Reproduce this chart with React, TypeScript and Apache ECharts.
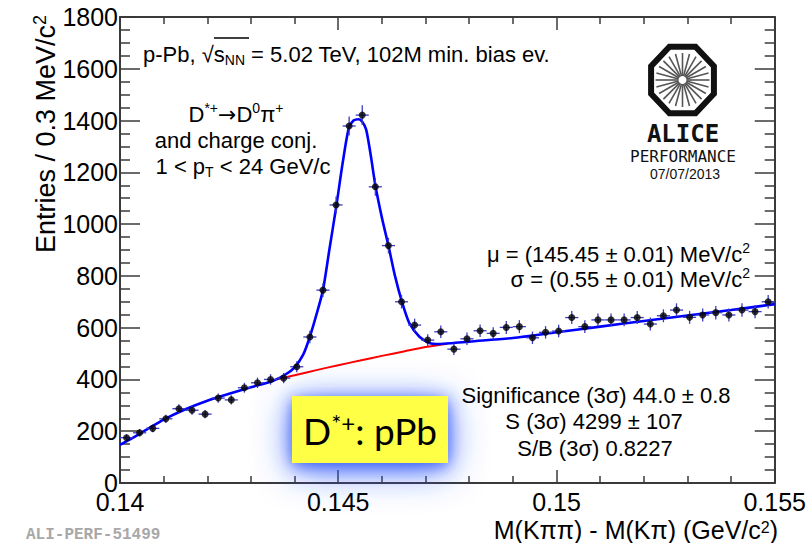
import React, { useEffect, useRef } from "react";
import * as echarts from "echarts";

// Histogram definition
const HIST_MIN = 0.14;
const BIN_WIDTH = 0.0003;

// Entries per bin
const counts = [
  175, 194, 211, 248, 287, 281, 266, 328, 321, 368,
  387, 400, 405, 449, 564, 745, 1074, 1379, 1421, 1144,
  917, 700, 610, 552, 584, 517, 557, 588, 578, 601,
  604, 561, 582, 587, 639, 604, 630, 630, 630, 639,
  614, 646, 668, 640, 649, 658, 649, 668, 662, 700,
];
// Vertical error bar half-lengths
const countErrors = [
  13, 14, 15, 16, 17, 17, 16, 18, 18, 19,
  20, 20, 20, 21, 24, 27, 33, 37, 38, 34,
  30, 26, 25, 23, 24, 23, 24, 24, 24, 25,
  25, 24, 24, 24, 25, 25, 25, 25, 25, 25,
  25, 25, 26, 25, 25, 26, 25, 26, 26, 26,
];

// Total fit (blue)
const fitX = [
  0.14, 0.1403, 0.1406, 0.141, 0.1415, 0.142, 0.1425, 0.143, 0.1435, 0.1438,
  0.144, 0.1442, 0.14435, 0.1445, 0.14465, 0.1448, 0.14496, 0.1451, 0.14524, 0.14535,
  0.14547, 0.14555, 0.14564, 0.14575, 0.14585, 0.146, 0.14615, 0.1463, 0.14646, 0.14663,
  0.14686, 0.14709, 0.1473, 0.1476, 0.148, 0.149, 0.15, 0.151, 0.152, 0.153,
  0.154, 0.155,
];
const fitY = [
  147, 175, 205, 245, 285, 318, 345, 370, 394, 420,
  447, 497, 565, 650, 745, 905, 1074, 1235, 1370, 1400,
  1405, 1395, 1365, 1260, 1150, 1025, 917, 800, 700, 617,
  565, 541, 537, 540, 546, 560, 582, 604, 626, 647,
  668, 691,
];

// Background fit (red) where visible
const bkgX = [0.1436, 0.144, 0.1445, 0.145, 0.1455, 0.146, 0.1465, 0.147, 0.1475];
const bkgY = [401, 416, 436, 455, 473, 491, 508, 525, 538];

// Axis ticks
const xTickValues = [0.14, 0.145, 0.15, 0.155];
const xTickLabels = ["0.14", "0.145", "0.15", "0.155"];
const yMin = 0;
const yMax = 1800;
const yStep = 200;

const FONT = "Liberation Sans";

function richText(size: number, lh: number) {
  return {
    a: { fontSize: size, fontFamily: FONT, color: "#000", lineHeight: lh },
    arr: { fontSize: size, fontFamily: "DejaVu Sans", color: "#000", lineHeight: lh },
    sup: {
      fontSize: Math.round(size * 0.65),
      fontFamily: FONT,
      color: "#000",
      lineHeight: Math.round(size * 0.7),
      verticalAlign: "top",
    },
    sub: {
      fontSize: Math.round(size * 0.65),
      fontFamily: FONT,
      color: "#000",
      lineHeight: Math.round(size * 0.7),
      verticalAlign: "bottom",
    },
  };
}

export default function App() {
  const ref = useRef<HTMLDivElement>(null);

  useEffect(() => {
    if (!ref.current) return;
    const chart = echarts.init(ref.current, undefined, { renderer: "svg" });

    const points = counts.map((c, i) => [HIST_MIN + BIN_WIDTH * (i + 0.5), c]);
    const errData = counts.map((c, i) => [HIST_MIN + BIN_WIDTH * (i + 0.5), c, countErrors[i]]);
    const fitData = fitX.map((x, i) => [x, fitY[i]]);
    const bkgData = bkgX.map((x, i) => [x, bkgY[i]]);

    const axisColor = "#3a3a3a";
    const xFmt = (v: number) => {
      const k = xTickValues.findIndex((t) => Math.abs(t - v) < 1e-9);
      return k >= 0 ? xTickLabels[k] : "";
    };

    const xBase = {
      type: "value",
      min: 0.14,
      max: 0.155,
      interval: 0.005,
      splitLine: { show: false },
      axisLine: { show: true, onZero: false, lineStyle: { color: axisColor, width: 2 } },
      axisTick: { show: true, inside: true, length: 13, lineStyle: { color: axisColor, width: 1.5 } },
      minorTick: { show: true, splitNumber: 5, length: 7, lineStyle: { color: axisColor, width: 1.5 } },
    };
    const yBase = {
      type: "value",
      min: yMin,
      max: yMax,
      interval: yStep,
      splitLine: { show: false },
      axisLine: { show: true, onZero: false, lineStyle: { color: axisColor, width: 2 } },
      axisTick: { show: true, inside: true, length: 20, lineStyle: { color: axisColor, width: 1.5 } },
      minorTick: { show: true, splitNumber: 4, length: 10, lineStyle: { color: axisColor, width: 1.5 } },
    };

    // ALICE logo octagon (decoration)
    const cx = 682.5;
    const cy = 80;
    const R = 34;
    const oct: number[][] = [];
    for (let k = 0; k < 8; k++) {
      const a = ((22.5 + 45 * k) * Math.PI) / 180;
      oct.push([cx + R * Math.cos(a), cy + R * 1.06 * Math.sin(a)]);
    }
    const spokes: any[] = [];
    for (let k = 0; k < 24; k++) {
      const a = (k * 15 * Math.PI) / 180;
      spokes.push({
        type: "line",
        shape: {
          x1: cx + 4 * Math.cos(a),
          y1: cy + 4 * Math.sin(a),
          x2: cx + 27 * Math.cos(a),
          y2: cy + 27 * Math.sin(a),
        },
        style: { stroke: "#555", lineWidth: 1.6 },
      });
    }

    const option: any = {
      animation: false,
      backgroundColor: "#fff",
      grid: { left: 120, right: 33, top: 17, bottom: 60, containLabel: false },
      xAxis: [
        {
          ...xBase,
          position: "bottom",
          axisLabel: {
            show: true,
            formatter: xFmt,
            fontSize: 25,
            lineHeight: 20,
            fontFamily: FONT,
            color: "#000",
            margin: 9,
            showMinLabel: true,
            showMaxLabel: true,
          },
        },
        { ...xBase, position: "top", axisLabel: { show: false } },
      ],
      yAxis: [
        {
          ...yBase,
          position: "left",
          axisLabel: {
            show: true,
            formatter: (v: number) => String(v),
            fontSize: 25,
            lineHeight: 16,
            fontFamily: FONT,
            color: "#000",
            margin: 2,
            padding: [4, 0, 0, 0],
          },
        },
        { ...yBase, position: "right", axisLabel: { show: false } },
      ],
      series: [
        {
          type: "line",
          data: bkgData,
          showSymbol: false,
          smooth: 0.3,
          lineStyle: { color: "#ff0000", width: 2 },
          z: 2,
        },
        {
          type: "line",
          data: fitData,
          showSymbol: false,
          smooth: 0.25,
          lineStyle: { color: "#0000ff", width: 2.6 },
          z: 3,
        },
        {
          type: "custom",
          data: errData,
          z: 4,
          renderItem: (params: any, api: any) => {
            const x = api.value(0);
            const y = api.value(1);
            const e = api.value(2);
            const c = api.coord([x, y]);
            const lo = api.coord([x, y - e]);
            const hi = api.coord([x, y + e]);
            const l = api.coord([x - BIN_WIDTH / 2, y]);
            const r = api.coord([x + BIN_WIDTH / 2, y]);
            const st = { stroke: "#3b3bc4", lineWidth: 1.3 };
            return {
              type: "group",
              children: [
                { type: "line", shape: { x1: l[0], y1: c[1], x2: r[0], y2: c[1] }, style: st },
                { type: "line", shape: { x1: c[0], y1: lo[1], x2: c[0], y2: hi[1] }, style: st },
              ],
            };
          },
        },
        {
          type: "scatter",
          data: points,
          symbol: "circle",
          symbolSize: 7,
          itemStyle: { color: "#000" },
          z: 5,
        },
      ],
      graphic: [
        // Y axis title
        {
          type: "text",
          x: 46,
          y: 15,
          rotation: Math.PI / 2,
          style: {
            text: "{a|Entries / 0.3 MeV/c}{sup|2}",
            align: "right",
            verticalAlign: "middle",
            rich: richText(27, 30),
          },
        },
        // X axis title
        {
          type: "text",
          x: 778,
          y: 530,
          style: {
            text: "{a|M(K\u03c0\u03c0) - M(K\u03c0) (GeV/c}{sup|2}{a|)}",
            align: "right",
            verticalAlign: "middle",
            rich: richText(25, 22),
          },
        },
        // Collision system
        {
          type: "text",
          x: 143,
          y: 54,
          style: {
            text: "{a|p-Pb, \u221a}{a|s}{sub|NN}{a| = 5.02 TeV, 102M min. bias ev.}",
            align: "left",
            verticalAlign: "middle",
            rich: richText(22, 26),
          },
        },
        {
          type: "line",
          shape: { x1: 214, y1: 38, x2: 249, y2: 38 },
          style: { stroke: "#000", lineWidth: 1.3 },
        },
        // Decay channel
        {
          type: "text",
          x: 236,
          y: 114,
          style: {
            text: "{a|D}{sup|*+}{arr|\u2192}{a|D}{sup|0}{a|\u03c0}{sup|+}",
            align: "center",
            verticalAlign: "middle",
            rich: richText(22, 26),
          },
        },
        {
          type: "text",
          x: 236,
          y: 140,
          style: {
            text: "{a|and charge conj.}",
            align: "center",
            verticalAlign: "middle",
            rich: richText(22, 26),
          },
        },
        {
          type: "text",
          x: 243,
          y: 166,
          style: {
            text: "{a|1 < p}{sub|T}{a| < 24 GeV/c}",
            align: "center",
            verticalAlign: "middle",
            rich: richText(22, 26),
          },
        },
        // Fit parameters
        {
          type: "text",
          x: 750,
          y: 254,
          style: {
            text: "{a|\u03bc = (145.45 \u00b1 0.01) MeV/c}{sup|2}",
            align: "right",
            verticalAlign: "middle",
            rich: richText(22, 26),
          },
        },
        {
          type: "text",
          x: 750,
          y: 279,
          style: {
            text: "{a|\u03c3 = (0.55 \u00b1 0.01) MeV/c}{sup|2}",
            align: "right",
            verticalAlign: "middle",
            rich: richText(22, 26),
          },
        },
        // Significance block
        {
          type: "text",
          x: 596,
          y: 395,
          style: {
            text: "Significance (3\u03c3) 44.0 \u00b1 0.8",
            fontSize: 22,
            fontFamily: FONT,
            fill: "#000",
            align: "center",
            verticalAlign: "middle",
          },
        },
        {
          type: "text",
          x: 594,
          y: 421,
          style: {
            text: "S (3\u03c3) 4299 \u00b1 107",
            fontSize: 22,
            fontFamily: FONT,
            fill: "#000",
            align: "center",
            verticalAlign: "middle",
          },
        },
        {
          type: "text",
          x: 595,
          y: 448,
          style: {
            text: "S/B (3\u03c3) 0.8227",
            fontSize: 22,
            fontFamily: FONT,
            fill: "#000",
            align: "center",
            verticalAlign: "middle",
          },
        },
        // Yellow label box with blue glow
        {
          type: "rect",
          shape: { x: 294, y: 399, width: 152, height: 63 },
          style: {
            fill: "#5a78ff",
            shadowBlur: 38,
            shadowColor: "rgba(40,80,255,0.85)",
            shadowOffsetY: 6,
          },
          z: 99,
        },
        {
          type: "rect",
          shape: { x: 292, y: 396, width: 156, height: 67 },
          style: {
            fill: "#ffff44",
            shadowBlur: 16,
            shadowColor: "rgba(40,80,240,0.8)",
            shadowOffsetY: 3,
          },
          z: 100,
        },
        {
          type: "text",
          x: 303,
          y: 430,
          z: 101,
          style: {
            text: "{m|D}{s|*+}{m|: pPb}",
            align: "left",
            verticalAlign: "middle",
            rich: {
              m: { fontSize: 37, fontFamily: "Lato", color: "#000", lineHeight: 40 },
              s: { fontSize: 24, fontFamily: "Lato", color: "#000", lineHeight: 24, verticalAlign: "top" },
            },
          },
        },
        // ALICE logo
        {
          type: "polygon",
          shape: { points: oct },
          style: { fill: "#fff", stroke: "#111", lineWidth: 6 },
        },
        ...spokes,
        {
          type: "text",
          x: 683,
          y: 134,
          style: {
            text: "ALICE",
            fontSize: 24,
            fontFamily: "DejaVu Sans Mono",
            fontWeight: "bold",
            fill: "#111",
            align: "center",
            verticalAlign: "middle",
          },
        },
        {
          type: "text",
          x: 683,
          y: 156,
          style: {
            text: "PERFORMANCE",
            fontSize: 16,
            fontFamily: "DejaVu Sans Mono",
            fill: "#111",
            align: "center",
            verticalAlign: "middle",
          },
        },
        {
          type: "text",
          x: 685,
          y: 174,
          style: {
            text: "07/07/2013",
            fontSize: 14,
            fontFamily: FONT,
            fill: "#111",
            align: "center",
            verticalAlign: "middle",
          },
        },
        // Figure id
        {
          type: "text",
          x: 26,
          y: 527,
          style: {
            text: "ALI-PERF-51499",
            fontSize: 16,
            fontFamily: "Liberation Mono",
            fontWeight: "bold",
            fill: "#a8a8a8",
            align: "left",
            verticalAlign: "top",
          },
        },
      ],
    };

    chart.setOption(option);
    return () => {
      chart.dispose();
    };
  }, []);

  return (
    <div
      ref={ref}
      style={{ position: "fixed", left: 0, top: 0, width: 809, height: 543, background: "#fff" }}
    />
  );
}
